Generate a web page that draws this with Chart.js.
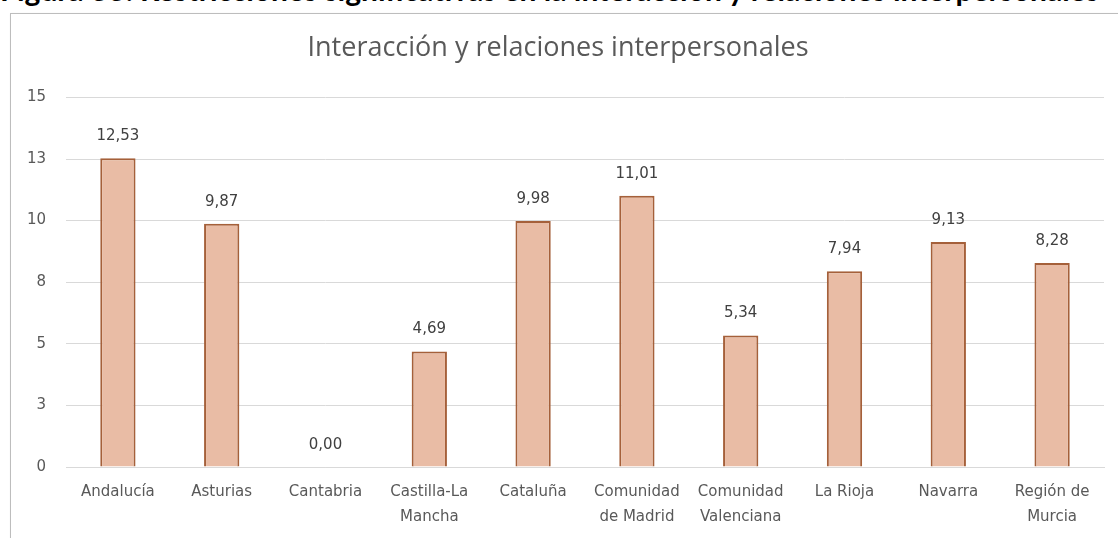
<!DOCTYPE html>
<html>
<head>
<meta charset="utf-8">
<script src="https://cdn.jsdelivr.net/npm/chart.js@4.4.1/dist/chart.umd.min.js"></script>
<style>
    body { margin: 0; width: 1118px; height: 538px; overflow: hidden; background: #fff; position: relative; }
    #caption { position: absolute; left: 0; top: -26px; font: bold 30px Lato; line-height: 30px; color: #000; white-space: nowrap; }
    #box { position: absolute; left: 10px; top: 13px; width: 1118px; height: 540px; border: 1px solid #bdbdbd; box-shadow: 1px 1px 2px #d0d0d0; background: #fff; }
    #wrap { position: absolute; left: 1px; top: 1px; width: 1107px; height: 524px; }
</style>
</head>
<body>
<div id="caption">Figura 33. Restricciones significativas en la interacción y relaciones interpersonales</div>
<div id="box"><div id="wrap"><canvas id="myCanvas"></canvas></div></div>
<script>
var regiones = [
    "Andalucía",
    "Asturias",
    "Cantabria",
    ["Castilla-La", "Mancha"],
    "Cataluña",
    ["Comunidad", "de Madrid"],
    ["Comunidad", "Valenciana"],
    "La Rioja",
    "Navarra",
    ["Región de", "Murcia"]
];
var valores = [12.53, 9.87, 0.00, 4.69, 9.98, 11.01, 5.34, 7.94, 9.13, 8.28];
var tituloGrafico = "Interacción y relaciones interpersonales";

graph();

function graph() {
    // etiquetas de datos encima de cada barra
    var etiquetas = {
        id: "etiquetas",
        afterDatasetsDraw: function (chart) {
            var ctx = chart.ctx;
            var meta = chart.getDatasetMeta(0);
            ctx.save();
            ctx.font = "15px 'DejaVu Sans'";
            ctx.fillStyle = "#404040";
            ctx.textAlign = "center";
            ctx.textBaseline = "middle";
            meta.data.forEach(function (bar, i) {
                var txt = valores[i].toFixed(2).replace(".", ",");
                ctx.fillText(txt, bar.x, bar.y - 22);
            });
            ctx.restore();
        }
    };

    var chartdata = {
        labels: regiones,
        datasets: [
            {
                label: tituloGrafico,
                backgroundColor: "#e9bca5",
                borderColor: "#a5603a",
                borderWidth: 2,
                barPercentage: 0.34,
                categoryPercentage: 1,
                data: valores,
            },
        ],
    };

    new Chart(document.getElementById("myCanvas"), {
        type: "bar",
        data: chartdata,
        plugins: [etiquetas],
        options: {
            responsive: true,
            maintainAspectRatio: false,
            animation: false,
            layout: { padding: { left: 0, right: 15, top: 0, bottom: 0 } },
            plugins: {
                legend: { display: false },
                tooltip: { enabled: false },
                title: {
                    display: true,
                    text: tituloGrafico,
                    color: "#595959",
                    font: { family: "Open Sans", size: 27, weight: "normal", lineHeight: 1.2 },
                    padding: { top: 17, bottom: 33 },
                },
            },
            scales: {
                x: {
                    grid: { display: false, drawTicks: false },
                    border: { color: "#d9d9d9" },
                    ticks: {
                        color: "#595959",
                        padding: 13,
                        maxRotation: 0,
                        autoSkip: false,
                        font: { family: "DejaVu Sans", size: 15, lineHeight: 25 / 15 },
                    },
                    afterFit: function (s) { s.height = 72; },
                },
                y: {
                    min: 0,
                    max: 15,
                    grid: { color: "#d9d9d9", drawTicks: false },
                    border: { display: false },
                    ticks: {
                        stepSize: 2.5,
                        color: "#595959",
                        padding: 20,
                        font: { family: "DejaVu Sans", size: 15 },
                        callback: function (v) { return Math.round(v); },
                    },
                    afterFit: function (s) { s.width = 54; },
                },
            },
        },
    });
}
</script>
</body>
</html>
